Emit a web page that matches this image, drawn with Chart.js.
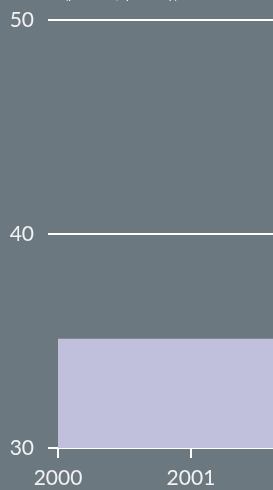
<!DOCTYPE html>
<html>
<head>
<meta charset="utf-8">
<script src="https://cdn.jsdelivr.net/npm/chart.js@4/dist/chart.umd.min.js"></script>
<style>
    html, body { margin: 0; padding: 0; background: #6c7880; overflow: hidden; }
    #wrap { width: 273px; height: 490px; position: relative; }
</style>
</head>
<body>
<div id="wrap"><canvas id="areaChart"></canvas></div>
<script>
const years = [2000, 2001, 2002];
const values = [35.1, 35.1, 35.1];
const yTicks = [30, 40, 50];
const xTicks = [2000, 2001];
const subtitle = "(per cent, quarterly)";

const textColor = "#f2f2f2";
const areaColor = "#c0c0dc";

// subtitle sits above the plot and is cut by the top edge
const subtitlePlugin = {
    id: 'subtitleText',
    afterDraw(chart, args, options) {
        const { ctx } = chart;
        ctx.save();
        ctx.font = 'italic 14px Lato';
        ctx.fillStyle = textColor;
        ctx.textAlign = 'center';
        ctx.textBaseline = 'alphabetic';
        ctx.fillText(options.text, 122, -1.5);
        ctx.restore();
    }
};

new Chart("areaChart", {
    type: "line",
    data: {
        datasets: [{
            data: years.map((y, i) => ({ x: y, y: values[i] })),
            backgroundColor: areaColor,
            borderWidth: 0,
            pointRadius: 0,
            stepped: true,
            fill: 'start'
        }]
    },
    options: {
        responsive: true,
        maintainAspectRatio: false,
        animation: false,
        layout: {
            padding: { top: 20, right: 0, bottom: 0, left: 0 }
        },
        scales: {
            x: {
                type: 'linear',
                min: 2000,
                max: 2001.617,
                afterFit(scale) {
                    scale.height = 42;
                    scale.paddingLeft = 0;
                    scale.paddingRight = 0;
                },
                afterBuildTicks(scale) { scale.ticks = xTicks.map(v => ({ value: v })); },
                border: { display: false },
                grid: {
                    drawOnChartArea: false,
                    drawTicks: true,
                    tickLength: 10,
                    color: "#ffffff",
                    lineWidth: 2
                },
                ticks: {
                    color: textColor,
                    padding: 8,
                    maxRotation: 0,
                    font: { family: "Lato", size: 21 },
                    callback: v => String(v)
                }
            },
            y: {
                min: 30,
                max: 50,
                afterFit(scale) {
                    scale.width = 58;
                    scale.paddingTop = 0;
                    scale.paddingBottom = 0;
                },
                afterBuildTicks(scale) { scale.ticks = yTicks.map(v => ({ value: v })); },
                border: { display: false },
                grid: {
                    drawTicks: true,
                    tickLength: 10,
                    color: "#ffffff",
                    lineWidth: 2
                },
                ticks: {
                    color: textColor,
                    padding: 14,
                    font: { family: "Lato", size: 21 }
                }
            }
        },
        plugins: {
            legend: { display: false },
            tooltip: { enabled: false },
            subtitleText: { text: subtitle }
        }
    },
    plugins: [subtitlePlugin]
});
</script>
</body>
</html>
